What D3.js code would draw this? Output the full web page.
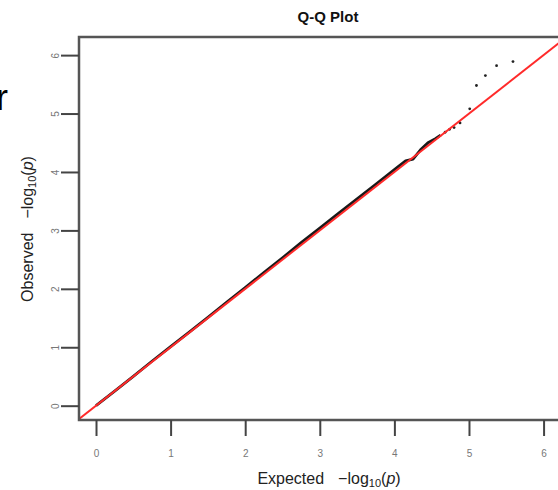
<!DOCTYPE html>
<html><head><meta charset="utf-8">
<script src="https://cdn.jsdelivr.net/npm/d3@7"></script>
<style>body{margin:0;background:#fff;} svg{display:block;font-family:"Liberation Sans",Arial,sans-serif;}</style>
</head><body>
<svg id="c" width="558" height="490"></svg>
<script>
// dense part of the Q-Q curve
const denseExpected = [0.00,0.25,0.50,0.75,1.00,1.25,1.50,1.75,2.00,2.25,2.50,2.75,3.00,3.25,3.50,3.75,4.00,4.15,4.25,4.35,4.45,4.55,4.62];
const denseObserved = [0.00,0.25,0.50,0.76,1.01,1.26,1.51,1.77,2.02,2.28,2.53,2.79,3.04,3.29,3.54,3.79,4.04,4.19,4.22,4.38,4.50,4.57,4.63];
// sparse tail points
const tailExpected = [4.68,4.74,4.80,4.88,5.01,5.10,5.22,5.37,5.59];
const tailObserved = [4.68,4.73,4.76,4.84,5.08,5.48,5.65,5.82,5.89];
const xTicks = [0,1,2,3,4,5,6];
const yTicks = [0,1,2,3,4,5,6];
const titleText = "Q-Q Plot";

const svg = d3.select("#c");
const x = d3.scaleLinear().domain([-0.228, 6.31]).range([79, 566.7]);
const y = d3.scaleLinear().domain([-0.245, 6.31]).range([420, 37]);

svg.append("defs").append("clipPath").attr("id","clip")
  .append("rect").attr("x",79).attr("y",37).attr("width",566.7-79).attr("height",420-37);

const g = svg.append("g").attr("clip-path","url(#clip)");
const dense = denseExpected.map((e,i)=>[e,denseObserved[i]]);
g.append("path").datum(dense)
  .attr("d", d3.line().x(d=>x(d[0])).y(d=>y(d[1])))
  .attr("fill","none").attr("stroke","#1a1a1a").attr("stroke-width",2.8).attr("stroke-linejoin","round");
g.selectAll("circle.t").data(tailExpected.map((e,i)=>[e,tailObserved[i]])).join("circle")
  .attr("cx",d=>x(d[0])).attr("cy",d=>y(d[1])).attr("r",1.4).attr("fill","#222");
g.append("line")
  .attr("x1",x(-0.3)).attr("y1",y(-0.3)).attr("x2",x(6.5)).attr("y2",y(6.5))
  .attr("stroke","#ff2a2a").attr("stroke-width",2);

// box
svg.append("rect").attr("x",79).attr("y",37).attr("width",566.7-79).attr("height",420-37)
  .attr("fill","none").attr("stroke","#555").attr("stroke-width",2.5);

// x axis
const xa = svg.append("g").attr("transform","translate(0,420)")
  .call(d3.axisBottom(x).tickValues(xTicks).tickSize(16).tickFormat(d3.format("d")));
xa.select(".domain").remove();
xa.selectAll(".tick line").attr("stroke","#444").attr("stroke-width",2);
xa.selectAll(".tick text").attr("fill","#777").attr("font-size",10).attr("dy","0").attr("y",37)
  .attr("font-family","Liberation Sans, Arial, sans-serif");

// y axis
const ya = svg.append("g").attr("transform","translate(79,0)")
  .call(d3.axisLeft(y).tickValues(yTicks).tickSize(18).tickFormat(d3.format("d")));
ya.select(".domain").remove();
ya.selectAll(".tick line").attr("stroke","#444").attr("stroke-width",2);
ya.selectAll(".tick text").attr("fill","#777").attr("font-size",10)
  .attr("x",0).attr("dy","0").attr("text-anchor","middle")
  .attr("transform","translate(-24,0) rotate(-90) translate(0,4)")
  .attr("font-family","Liberation Sans, Arial, sans-serif");

// title
svg.append("text").attr("x",328).attr("y",22).attr("text-anchor","middle")
  .attr("font-size",15).attr("font-weight","bold").attr("fill","#111").text(titleText);

// axis labels
function label(sel, word){
  const t = sel.attr("font-size",16).attr("fill","#222");
  t.append("tspan").text(word);
  t.append("tspan").attr("dx",14).text("\u2212log");
  t.append("tspan").attr("font-size",11).attr("dy",3).text("10");
  t.append("tspan").attr("dy",-3).text("(");
  t.append("tspan").attr("font-style","italic").text("p");
  t.append("tspan").text(")");
}
label(svg.append("text").attr("x",329).attr("y",484).attr("text-anchor","middle"), "Expected");
label(svg.append("text").attr("text-anchor","middle")
  .attr("transform","translate(33,229) rotate(-90)"), "Observed");

// cropped letter at left edge (cut off in the reference too)
svg.append("text").attr("x",-4).attr("y",110).attr("font-size",36).attr("fill","#000").text("r");
</script>
</body></html>
